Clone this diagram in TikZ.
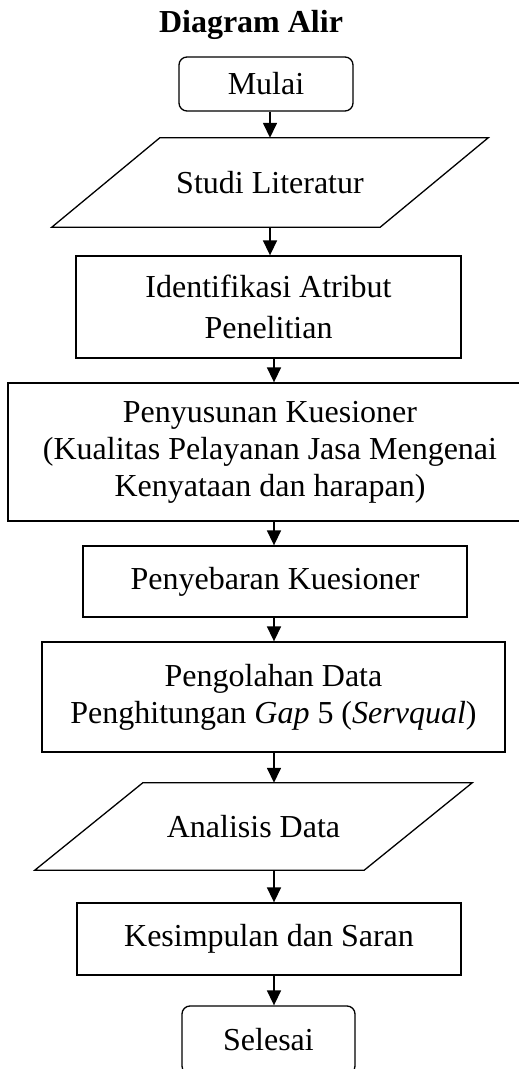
\documentclass[tikz,border=0pt]{standalone}
\usepackage{fontspec}
\setmainfont{Liberation Serif}
\usetikzlibrary{arrows.meta}
\tikzset{
  garis/.style={line width=1.3pt},
  kotak/.style={draw, garis, align=center, inner sep=0pt},
  terminal/.style={kotak, rounded corners=8pt},
  jajar/.style={align=center, inner sep=0pt},
  panah/.style={line width=1.6pt, -{Triangle[length=15pt,width=14pt]}}
}
\begin{document}
\begin{tikzpicture}[x=1pt,y=1pt,font={\fontsize{32}{37}\selectfont}]
  \useasboundingbox (0,0) rectangle (519,1069);
  \clip (0,0) rectangle (519,1069);
  \node [anchor=base, font={\fontsize{32}{37}\selectfont\bfseries}] (judul) at (251,1036) {Diagram Alir};
  \node [terminal, minimum width=174pt, minimum height=54pt] (mulai) at (266,985) {Mulai};
  \node [jajar, minimum width=436pt, minimum height=89pt] (studi) at (270,886.5) {Studi Literatur};
  \node [kotak, minimum width=385pt, minimum height=102pt] (atribut) at (268.5,762) {Identifikasi Atribut\\[4pt] Penelitian};
  \node [kotak, minimum width=524pt, minimum height=138pt] (susun) at (270,617) {Penyusunan Kuesioner\\ (Kualitas Pelayanan Jasa Mengenai\\ Kenyataan dan harapan)};
  \node [kotak, minimum width=384pt, minimum height=71pt] (sebar) at (275,487.5) {Penyebaran Kuesioner};
  \node [kotak, minimum width=463pt, minimum height=110pt] (olah) at (273.5,372) {Pengolahan Data\\ Penghitungan \textit{Gap} 5 (\textit{Servqual})};
  \node [jajar, minimum width=437pt, minimum height=87pt] (analisis) at (253.5,242.5) {Analisis Data};
  \node [kotak, minimum width=384pt, minimum height=72pt] (simpul) at (269,130) {Kesimpulan dan Saran};
  \node [terminal, minimum width=173pt, minimum height=68pt] (selesai) at (268.5,29) {Selesai};
  \foreach \n in {studi,analisis}
    \draw [garis] (\n.south west) -- ([xshift=-108pt]\n.south east) -- (\n.north east)
      -- ([xshift=108pt]\n.north west) -- cycle;
  \coordinate (ka) at (270,0);
  \coordinate (kb) at (274,0);
  \draw [panah] (mulai.south -| ka) -- (studi.north -| ka);
  \draw [panah] (studi.south -| ka) -- (atribut.north -| ka);
  \draw [panah] (atribut.south -| kb) -- (susun.north -| kb);
  \draw [panah] (susun.south -| kb) -- (sebar.north -| kb);
  \draw [panah] (sebar.south -| kb) -- (olah.north -| kb);
  \draw [panah] (olah.south -| kb) -- (analisis.north -| kb);
  \draw [panah] (analisis.south -| kb) -- (simpul.north -| kb);
  \draw [panah] (simpul.south -| kb) -- (selesai.north -| kb);
\end{tikzpicture}
\end{document}
